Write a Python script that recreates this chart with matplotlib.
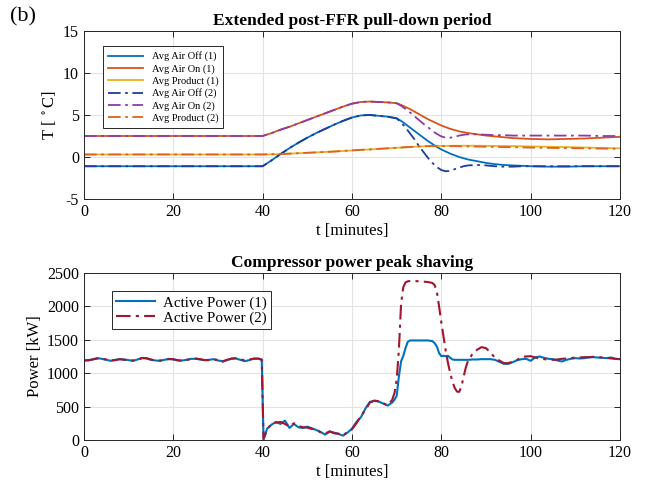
import matplotlib
matplotlib.use('Agg')
import matplotlib.pyplot as plt

plt.rcParams['font.family'] = ['Liberation Serif', 'DejaVu Serif']
plt.rcParams['mathtext.fontset'] = 'stix'
plt.rcParams['axes.unicode_minus'] = False

# temperature curves (minutes, degC)
t_temp = [0, 40, 42, 44, 46, 48, 50, 52, 54, 56, 58, 60, 62, 64, 66, 68, 70,
          71, 72, 73, 74, 75, 76, 77, 78, 79, 80, 81, 82, 83, 84, 85, 86,
          88, 90, 92, 94, 96, 98, 100, 104, 108, 112, 116, 120]
air_off_1 = [-1.1, -1.1, -0.4, 0.35, 1.05, 1.7, 2.3, 2.85, 3.35, 3.85, 4.3, 4.7, 4.95, 5.0, 4.9, 4.8, 4.6,
             4.3, 3.9, 3.5, 3.1, 2.7, 2.3, 1.9, 1.55, 1.2, 0.9, 0.65, 0.4, 0.2, 0.0, -0.15, -0.3,
             -0.5, -0.7, -0.85, -0.95, -1.0, -1.05, -1.1, -1.15, -1.15, -1.1, -1.1, -1.1]
air_on_1 = [2.5, 2.5, 2.85, 3.25, 3.6, 4.0, 4.4, 4.8, 5.2, 5.6, 6.0, 6.35, 6.55, 6.6, 6.55, 6.5, 6.4,
            6.2, 5.95, 5.7, 5.4, 5.1, 4.8, 4.5, 4.25, 4.0, 3.75, 3.55, 3.35, 3.2, 3.05, 2.95, 2.85,
            2.7, 2.55, 2.45, 2.35, 2.25, 2.2, 2.15, 2.1, 2.15, 2.2, 2.3, 2.4]
product_1 = [0.3, 0.3, 0.32, 0.35, 0.4, 0.45, 0.5, 0.55, 0.6, 0.65, 0.72, 0.78, 0.85, 0.9, 0.97, 1.03, 1.1,
             1.13, 1.16, 1.19, 1.22, 1.25, 1.27, 1.29, 1.3, 1.31, 1.32, 1.33, 1.33, 1.34, 1.34, 1.34, 1.34,
             1.34, 1.33, 1.32, 1.31, 1.3, 1.28, 1.26, 1.22, 1.18, 1.13, 1.08, 1.03]
air_off_2 = [-1.1, -1.1, -0.4, 0.35, 1.05, 1.7, 2.3, 2.85, 3.35, 3.85, 4.3, 4.7, 4.95, 5.0, 4.9, 4.8, 4.6,
             4.1, 3.5, 2.8, 2.1, 1.3, 0.6, -0.1, -0.7, -1.2, -1.55, -1.7, -1.65, -1.45, -1.25, -1.1, -1.0,
             -0.95, -1.0, -1.1, -1.15, -1.15, -1.1, -1.1, -1.1, -1.1, -1.1, -1.1, -1.1]
air_on_2 = [2.5, 2.5, 2.85, 3.25, 3.6, 4.0, 4.4, 4.8, 5.2, 5.6, 6.0, 6.35, 6.55, 6.6, 6.55, 6.5, 6.4,
            6.1, 5.7, 5.3, 4.85, 4.4, 3.95, 3.55, 3.1, 2.75, 2.45, 2.3, 2.3, 2.4, 2.55, 2.65, 2.7,
            2.7, 2.65, 2.6, 2.6, 2.55, 2.55, 2.55, 2.55, 2.55, 2.55, 2.5, 2.5]
product_2 = [0.3, 0.3, 0.32, 0.35, 0.4, 0.45, 0.5, 0.55, 0.6, 0.65, 0.72, 0.78, 0.85, 0.9, 0.97, 1.03, 1.1,
             1.13, 1.16, 1.19, 1.22, 1.25, 1.27, 1.29, 1.3, 1.31, 1.32, 1.31, 1.3, 1.29, 1.28, 1.27, 1.26,
             1.24, 1.22, 1.2, 1.18, 1.16, 1.14, 1.12, 1.09, 1.06, 1.03, 1.0, 0.98]

# compressor power (minutes, kW)
t_pow = (list(range(0, 40)) + [39.8, 40.2] + list(range(41, 70))
         + [69.5, 70, 70.5, 71, 71.5, 72, 72.5, 73, 74, 75, 76, 77, 78, 78.5, 79, 79.5,
            80, 80.5, 81, 81.5, 82, 82.5, 83, 83.5, 84, 84.5, 85, 85.5, 86]
         + list(range(87, 121)))
power_1 = [1195, 1190, 1210, 1225, 1215, 1200, 1185, 1200, 1210, 1205, 1195, 1185, 1205, 1230, 1220, 1200,
           1190, 1185, 1200, 1215, 1205, 1190, 1190, 1200, 1215, 1215, 1205, 1195, 1200, 1210, 1190, 1180,
           1195, 1220, 1220, 1200, 1180, 1195, 1220, 1215,
           1200, 10,
           170, 230, 270, 240, 290, 180, 240, 190, 180, 200, 175, 150, 120, 80, 125, 110, 90, 65, 110, 170,
           270, 340, 470, 570, 585, 575, 545, 515, 560,
           600, 660, 950, 1180, 1260, 1380, 1470, 1490, 1490, 1490, 1490, 1490, 1480, 1450, 1400, 1300,
           1255, 1260, 1255, 1260, 1230, 1205, 1200, 1200, 1200, 1200, 1200, 1200, 1200,
           1205, 1205, 1210, 1210, 1210, 1200, 1170, 1140, 1140, 1165, 1195, 1210, 1215, 1185, 1235, 1250,
           1230, 1215, 1210, 1190, 1175, 1200, 1215, 1225, 1220, 1225, 1235, 1240, 1235, 1230, 1225, 1235,
           1215, 1210]
power_2 = [1190, 1195, 1205, 1220, 1215, 1205, 1190, 1195, 1210, 1200, 1195, 1190, 1200, 1225, 1225, 1205,
           1190, 1190, 1195, 1210, 1210, 1195, 1185, 1200, 1210, 1220, 1210, 1195, 1195, 1205, 1200, 1170,
           1200, 1215, 1225, 1205, 1195, 1205, 1215, 1220,
           1205, 15,
           150, 250, 260, 270, 240, 200, 250, 210, 190, 185, 165, 160, 110, 95, 130, 100, 95, 70, 120, 160,
           250, 360, 450, 560, 590, 580, 550, 520, 600,
           700, 900, 1350, 2050, 2290, 2360, 2375, 2380, 2380, 2375, 2370, 2365, 2350, 2320, 2220, 2000,
           1760, 1540, 1330, 1150, 1000, 870, 780, 725, 720, 800, 950, 1090, 1190,
           1290, 1350, 1390, 1375, 1310, 1230, 1190, 1150, 1150, 1175, 1200, 1245, 1250, 1255, 1235, 1220,
           1210, 1205, 1200, 1205, 1215, 1220, 1225, 1235, 1235, 1240, 1240, 1245, 1240, 1235, 1230, 1220,
           1215, 1210]

fig = plt.figure(figsize=(6.54, 4.88), dpi=100)
ax1 = fig.add_axes([0.1284, 0.5922, 0.8196, 0.3443])
ax2 = fig.add_axes([0.1284, 0.0984, 0.8196, 0.3422])


def style_axes(ax):
    ax.grid(True, color='#e3e3e3', linewidth=0.8)
    ax.set_axisbelow(True)
    ax.tick_params(direction='in', top=True, right=True, labelsize=11.5,
                   length=4, width=0.7, color='#262626')
    for s in ax.spines.values():
        s.set_color('#262626')
        s.set_linewidth(0.7)
    ax.set_xlim(0, 120)
    ax.set_xticks(range(0, 121, 20))
    ax.set_xlabel('t [minutes]', fontsize=12, labelpad=2)


lw = 1.3
dd = (0, (7, 2.5, 1.5, 2.5))  # matlab-like dash-dot
ax1.plot(t_temp, air_off_1, color='#0072BD', lw=lw, label='Avg Air Off (1)')
ax1.plot(t_temp, air_on_1, color='#D95319', lw=lw, label='Avg Air On (1)')
ax1.plot(t_temp, product_1, color='#EDB120', lw=lw, label='Avg Product (1)')
ax1.plot(t_temp, air_off_2, color='#1F3C9C', lw=lw, ls=dd, label='Avg Air Off (2)')
ax1.plot(t_temp, air_on_2, color='#8E3BA8', lw=lw, ls=dd, label='Avg Air On (2)')
ax1.plot(t_temp, product_2, color='#E0601E', lw=lw, ls=dd, label='Avg Product (2)')
style_axes(ax1)
ax1.set_ylim(-5, 15)
ax1.set_yticks(range(-5, 16, 5))
ax1.set_ylabel(r'T [ $^\circ$C]', fontsize=12, labelpad=4)
ax1.set_title('Extended post-FFR pull-down period', fontsize=12.5, fontweight='bold', pad=4)
leg1 = ax1.legend(loc='upper left', bbox_to_anchor=(0.025, 0.94), fontsize=7.5, frameon=True,
                  fancybox=False, edgecolor='#262626', framealpha=1, handlelength=3.4,
                  labelspacing=0.25, borderpad=0.5, handletextpad=0.8)
leg1.get_frame().set_linewidth(0.7)

ax2.plot(t_pow, power_1, color='#0072BD', lw=1.5, label='Active Power (1)')
ax2.plot(t_pow, power_2, color='#A2142F', lw=1.5, ls=dd, label='Active Power (2)')
style_axes(ax2)
ax2.set_ylim(0, 2500)
ax2.set_yticks(range(0, 2501, 500))
ax2.set_ylabel('Power [kW]', fontsize=12, labelpad=3)
ax2.set_title('Compressor power peak shaving', fontsize=12.5, fontweight='bold', pad=4)
leg2 = ax2.legend(loc='upper left', bbox_to_anchor=(0.038, 0.935), fontsize=10.8, frameon=True,
                  fancybox=False, edgecolor='#262626', framealpha=1, handlelength=2.6,
                  labelspacing=0.1, borderpad=0.3, handletextpad=0.5)
leg2.get_frame().set_linewidth(0.7)

fig.text(0.015, 0.955, '(b)', fontsize=16)

fig.savefig('out.png', dpi=100)
